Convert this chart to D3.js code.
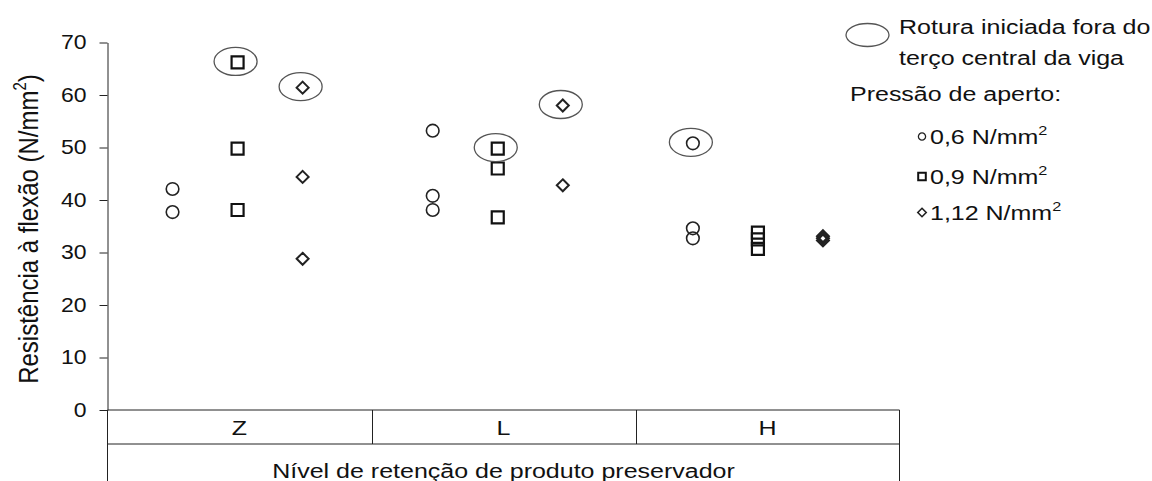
<!DOCTYPE html>
<html>
<head>
<meta charset="utf-8">
<script src="https://cdn.jsdelivr.net/npm/d3@7"></script>
<style>
  body { margin: 0; background: #fff; }
  text { font-family: "Liberation Sans", Arial, sans-serif; fill: #111; }
</style>
</head>
<body>
<svg></svg>
<script>
// canvas size
const width = 1152;
const height = 481;

// categories (retention level) and clamping pressures
const categories = ["Z", "L", "H"];
const pressures = ["0,6", "0,9", "1,12"];
const yTicks = [0, 10, 20, 30, 40, 50, 60, 70];

// values per category (Z, L, H) for each pressure
const p06 = [[42.1, 37.7], [53.2, 40.8, 38.1], [50.8, 34.6, 32.7]];
const p09 = [[66.2, 49.8, 38.1], [49.8, 46.0, 36.7], [33.8, 32.5, 30.7]];
const p112 = [[61.4, 44.4, 28.8], [58.0, 42.8], [33.1, 32.7, 32.3]];

// rupture started outside the central third: [pressure index, category, value]
const outsideThird = [[1, "Z", 66.2], [2, "Z", 61.4], [1, "L", 49.8], [2, "L", 58.0], [0, "H", 50.8]];

const svg = d3.select("svg")
    .attr("width", width)
    .attr("height", height);

// scales
const y = d3.scaleLinear().domain([0, 70]).range([410, 42.5]);
const tableX = d3.scaleBand().domain(categories).range([107.5, 899.5]);
const x = d3.scaleBand().domain(categories).range([107.5, 888]);
const xInner = d3.scalePoint().domain(pressures).range([0, x.bandwidth()]).padding(1);
const px = (p, c) => x(c) + xInner(p);

// stretch texts horizontally (the reference is a bit wider than normal type)
function stretch(sel, k = 1.25) {
    sel.each(function () {
        const t = d3.select(this);
        const tx = +t.attr("x") || 0;
        const ty = +t.attr("y") || 0;
        t.attr("x", 0).attr("y", 0).attr("transform", `translate(${tx},${ty}) scale(${k},1)`);
    });
}

// y axis
const axisG = svg.append("g")
    .attr("transform", "translate(107.5,0)")
    .call(d3.axisLeft(y).tickValues(yTicks).tickSize(8).tickPadding(13).tickSizeOuter(0));
axisG.select(".domain").attr("stroke", "#222");
axisG.selectAll(".tick line").attr("stroke", "#222");
axisG.selectAll(".tick text")
    .attr("font-size", 20)
    .attr("font-family", "Liberation Sans, Arial, sans-serif")
    .attr("fill", "#111");
stretch(axisG.selectAll(".tick text"), 1.15);

// y title
const title = svg.append("text")
    .attr("transform", "translate(38,229) scale(1.18,1) rotate(-90)")
    .attr("text-anchor", "middle")
    .attr("font-size", 24);
title.append("tspan").text("Resistência à flexão (N/mm");
title.append("tspan").attr("font-size", 15).attr("dy", -10).text("2");
title.append("tspan").attr("dy", 10).text(")");

// table under the axis
const x0 = tableX.range()[0], x1 = tableX.range()[1];
const rowY = [y(0), y(0) + 34, height];
const table = svg.append("g").attr("stroke", "#222").attr("stroke-width", 1);
table.append("line").attr("x1", x0).attr("x2", x1).attr("y1", rowY[0]).attr("y2", rowY[0]);
table.append("line").attr("x1", x0).attr("x2", x1).attr("y1", rowY[1]).attr("y2", rowY[1]);
table.append("line").attr("x1", x0).attr("x2", x0).attr("y1", rowY[0]).attr("y2", rowY[2]);
table.append("line").attr("x1", x1).attr("x2", x1).attr("y1", rowY[0]).attr("y2", rowY[2]);
table.selectAll(".div")
    .data(categories.slice(1))
    .join("line")
    .attr("x1", d => Math.round(tableX(d)) + 0.5)
    .attr("x2", d => Math.round(tableX(d)) + 0.5)
    .attr("y1", rowY[0]).attr("y2", rowY[1]);

const catText = svg.selectAll(".cat")
    .data(categories)
    .join("text")
    .attr("x", d => tableX(d) + tableX.bandwidth() / 2)
    .attr("y", 435)
    .attr("text-anchor", "middle")
    .attr("font-size", 20)
    .text(d => d);
stretch(catText);

const xTitle = svg.append("text")
    .attr("x", (x0 + x1) / 2)
    .attr("y", 477.5)
    .attr("text-anchor", "middle")
    .attr("font-size", 20)
    .text("Nível de retenção de produto preservador");
stretch(xTitle);

// marker shapes
const diamond = s => `M0,${-s}L${s},0L0,${s}L${-s},0Z`;
const square = s => `M${-s},${-s}H${s}V${s}H${-s}Z`;
function marker(sel, pi, size) {
    if (pi === 0) {
        sel.append("circle").attr("r", size).attr("fill", "none").attr("stroke", "#222").attr("stroke-width", 1.6);
    } else if (pi === 1) {
        sel.append("path").attr("d", square(size)).attr("fill", "none").attr("stroke", "#111").attr("stroke-width", 2.2);
    } else {
        sel.append("path").attr("d", diamond(size)).attr("fill", "none").attr("stroke", "#222").attr("stroke-width", 2);
    }
}

// points
const plot = svg.append("g");
[p06, p09, p112].forEach((vals, pi) => {
    categories.forEach((c, ci) => {
        vals[ci].forEach(v => {
            const g = plot.append("g").attr("transform", `translate(${px(pressures[pi], c)},${y(v)})`);
            marker(g, pi, pi === 0 ? 6.3 : 6);
        });
    });
});

// ellipses: rupture outside central third
plot.selectAll(".ring")
    .data(outsideThird)
    .join("ellipse")
    .attr("cx", d => px(pressures[d[0]], d[1]) - 2)
    .attr("cy", d => y(d[2]) - 1)
    .attr("rx", 21.5)
    .attr("ry", 14)
    .attr("fill", "none")
    .attr("stroke", "#555")
    .attr("stroke-width", 1.3);

// legend
const legend = svg.append("g");
legend.append("ellipse")
    .attr("cx", 867.5).attr("cy", 35).attr("rx", 21.5).attr("ry", 11.5)
    .attr("fill", "none").attr("stroke", "#555").attr("stroke-width", 1.3);
const legLines = [
    { x: 899, y: 34, t: "Rotura iniciada fora do" },
    { x: 899, y: 65, t: "terço central da viga" },
    { x: 850, y: 101, t: "Pressão de aperto:" }
];
const lt = legend.selectAll(".lt")
    .data(legLines)
    .join("text")
    .attr("x", d => d.x)
    .attr("y", d => d.y)
    .attr("font-size", 20)
    .text(d => d.t);
stretch(lt);

const legY = [136.5, 176.5, 212.5];
pressures.forEach((p, i) => {
    const g = legend.append("g").attr("transform", `translate(922,${legY[i]})`);
    if (i === 0) {
        g.append("circle").attr("r", 3.6).attr("fill", "none").attr("stroke", "#222").attr("stroke-width", 1.3);
    } else if (i === 1) {
        g.append("path").attr("d", square(3.8)).attr("fill", "none").attr("stroke", "#111").attr("stroke-width", 2);
    } else {
        g.append("path").attr("d", diamond(4.2)).attr("fill", "none").attr("stroke", "#222").attr("stroke-width", 1.6);
    }
    const t = legend.append("text")
        .attr("x", 930)
        .attr("y", legY[i] + 7)
        .attr("font-size", 20);
    t.append("tspan").text(p + " N/mm");
    t.append("tspan").attr("font-size", 13).attr("dy", -9).text("2");
    stretch(t);
});
</script>
</body>
</html>
